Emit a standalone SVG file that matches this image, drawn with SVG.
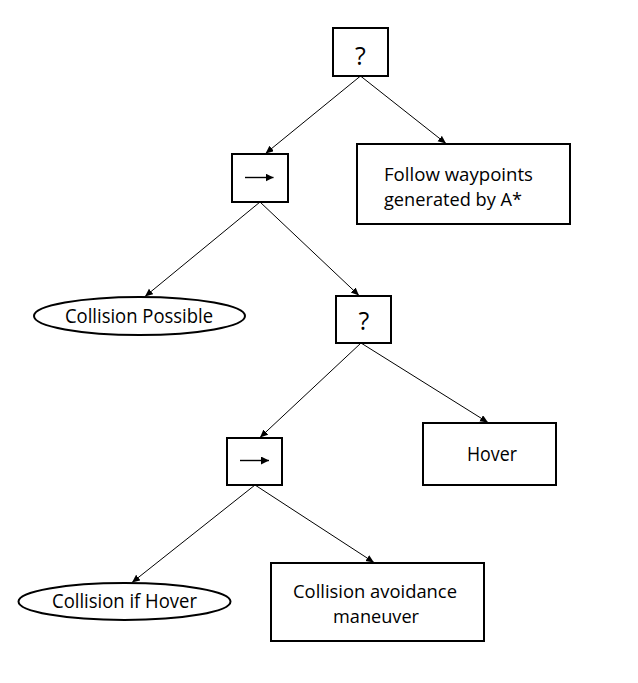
<svg xmlns="http://www.w3.org/2000/svg" width="638" height="683" viewBox="0 0 638 683">
<defs>
<style>
.box{fill:#fff;stroke:#000;stroke-width:2}
.lbl{font-family:"Open Sans","Noto Sans",sans-serif;font-size:19.5px;fill:#000}
.lbl2{font-family:"Open Sans","Noto Sans",sans-serif;font-size:18px;fill:#000}
.q{font-family:"Open Sans","Noto Sans",sans-serif;font-size:25px;fill:#000;text-anchor:middle}
.edge{stroke:#000;stroke-width:1;fill:none;marker-end:url(#ah)}
.sym{stroke:#000;stroke-width:1.4;fill:none;marker-end:url(#sh)}
</style>
<marker id="ah" markerUnits="userSpaceOnUse" markerWidth="9" markerHeight="8" refX="8" refY="3.5" orient="auto">
<path d="M0,0 L8,3.5 L0,7 z" fill="#000"/>
</marker>
<marker id="sh" markerUnits="userSpaceOnUse" markerWidth="9" markerHeight="9" refX="8" refY="4" orient="auto">
<path d="M0,0 L8,4 L0,8 z" fill="#000"/>
</marker>
</defs>
<rect width="638" height="683" fill="#fff"/>
<g id="connectors">
<line class="edge" x1="360.5" y1="76" x2="265.5" y2="153.5"/>
<line class="edge" x1="360.5" y1="76" x2="446" y2="143.5"/>
<line class="edge" x1="260" y1="202" x2="145" y2="296.5"/>
<line class="edge" x1="260" y1="202" x2="359" y2="295.5"/>
<line class="edge" x1="361" y1="343" x2="260" y2="437.5"/>
<line class="edge" x1="361" y1="343" x2="488" y2="422.5"/>
<line class="edge" x1="255" y1="485" x2="132" y2="582.5"/>
<line class="edge" x1="255" y1="485" x2="374" y2="562.5"/>
</g>
<g id="root-selector">
<rect class="box" x="333" y="28" width="55" height="48"/>
<text class="q" x="360.5" y="65">?</text>
</g>
<g id="sequence-1">
<rect class="box" x="232" y="154" width="56" height="48"/>
<line class="sym" x1="245" y1="177.5" x2="273.5" y2="177.5"/>
</g>
<g id="follow-waypoints">
<rect class="box" x="357" y="144" width="213" height="80"/>
<text class="lbl2" x="384" y="180.5" textLength="149" lengthAdjust="spacingAndGlyphs">Follow waypoints</text>
<text class="lbl2" x="384" y="205.5" textLength="138" lengthAdjust="spacingAndGlyphs">generated by A*</text>
</g>
<g id="collision-possible">
<ellipse cx="139.5" cy="316" rx="105.5" ry="19" fill="#fff" stroke="#000" stroke-width="2"/>
<text class="lbl" x="65" y="323" textLength="148" lengthAdjust="spacingAndGlyphs">Collision Possible</text>
</g>
<g id="selector-2">
<rect class="box" x="336" y="296" width="55" height="47"/>
<text class="q" x="364" y="330">?</text>
</g>
<g id="sequence-2">
<rect class="box" x="227" y="438" width="55" height="47"/>
<line class="sym" x1="240" y1="460.5" x2="269" y2="460.5"/>
</g>
<g id="hover">
<rect class="box" x="423" y="423" width="133" height="62"/>
<text class="lbl" x="467" y="461" textLength="50" lengthAdjust="spacingAndGlyphs">Hover</text>
</g>
<g id="collision-if-hover">
<ellipse cx="124.5" cy="601.5" rx="106" ry="18.5" fill="#fff" stroke="#000" stroke-width="2"/>
<text class="lbl" x="52" y="608" textLength="145" lengthAdjust="spacingAndGlyphs">Collision if Hover</text>
</g>
<g id="collision-avoidance">
<rect class="box" x="271" y="563" width="213" height="78"/>
<text class="lbl2" x="293" y="597.5" textLength="164" lengthAdjust="spacingAndGlyphs">Collision avoidance</text>
<text class="lbl2" x="333" y="623" textLength="86" lengthAdjust="spacingAndGlyphs">maneuver</text>
</g>
</svg>
